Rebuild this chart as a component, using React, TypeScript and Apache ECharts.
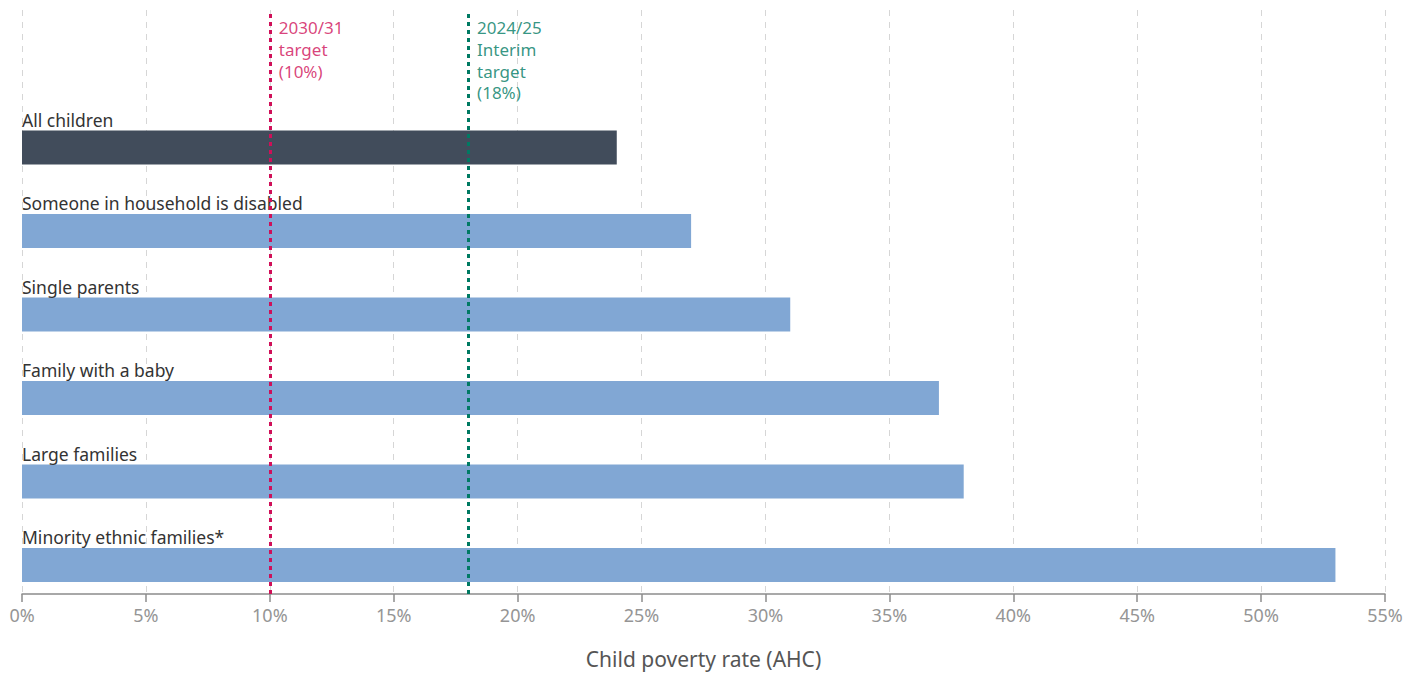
import React, { useEffect, useRef } from "react";
import * as echarts from "echarts";

const categories = [
  "All children",
  "Someone in household is disabled",
  "Single parents",
  "Family with a baby",
  "Large families",
  "Minority ethnic families*",
];
const values = [24, 27, 31, 37, 38, 53];
const barColors = ["#414c5b", "#81a7d4", "#81a7d4", "#81a7d4", "#81a7d4", "#81a7d4"];
const targetValues = [10, 18];
const targetLabels = ["2030/31\ntarget\n(10%)", "2024/25\nInterim\ntarget\n(18%)"];
const targetColors = ["#cf1059", "#007a63"];
const xTicks = { min: 0, max: 55, interval: 5 };
const axisTitle = "Child poverty rate (AHC)";

const FONT = "'Noto Sans', sans-serif";

export default function App() {
  const ref = useRef<HTMLDivElement>(null);
  useEffect(() => {
    if (!ref.current) return;
    const chart = echarts.init(ref.current, null, { renderer: "svg" });
    const gridLeft = 22;
    const gridRight = 37;
    const option: any = {
      animation: false,
      grid: [
        { left: gridLeft, right: gridRight, top: 10, bottom: 78 },
        { left: gridLeft, right: gridRight, top: 105.75, bottom: 67.25 },
      ],
      xAxis: [
        {
          gridIndex: 0,
          type: "value",
          min: xTicks.min,
          max: xTicks.max,
          interval: xTicks.interval,
          name: axisTitle,
          nameLocation: "middle",
          nameGap: 54,
          nameTextStyle: { fontFamily: FONT, fontSize: 21, color: "#555" },
          axisLine: { show: true, lineStyle: { color: "#8c8c8c", width: 1.5 } },
          axisTick: { show: true, length: 8, lineStyle: { color: "#8c8c8c", width: 1.5 } },
          axisLabel: {
            formatter: "{value}%",
            fontFamily: FONT,
            fontSize: 18,
            color: "#959595",
            margin: 12,
          },
          splitLine: { show: true, lineStyle: { color: "#d6d6d6", type: [6, 6], width: 1 } },
        },
        {
          gridIndex: 1,
          type: "value",
          min: xTicks.min,
          max: xTicks.max,
          show: false,
          splitLine: { show: false },
        },
      ],
      yAxis: [
        { gridIndex: 0, type: "value", min: 0, max: 1, show: false, splitLine: { show: false } },
        {
          gridIndex: 1,
          type: "category",
          data: categories,
          inverse: true,
          show: false,
        },
      ],
      series: [
        {
          type: "bar",
          xAxisIndex: 1,
          yAxisIndex: 1,
          barWidth: 34,
          data: values.map((v, i) => ({ value: v, itemStyle: { color: barColors[i] } })),
          label: {
            show: true,
            position: [0, -2],
            align: "left",
            verticalAlign: "bottom",
            formatter: "{b}",
            fontFamily: FONT,
            fontSize: 17.5,
            color: "#333",
          },
          z: 2,
        },
        ...targetValues.map((t, i) => ({
          type: "scatter",
          xAxisIndex: 0,
          yAxisIndex: 0,
          symbolSize: 0,
          data: [[t, 1]],
          z: 10,
          label: {
            show: true,
            position: [9, 7],
            align: "left",
            verticalAlign: "top",
            formatter: targetLabels[i],
            fontFamily: FONT,
            fontSize: 17,
            lineHeight: 21.7,
            color: targetColors[i],
          },
          markLine: {
            silent: true,
            symbol: "none",
            label: { show: false },
            lineStyle: { color: targetColors[i], type: [4, 4], width: 3 },
            data: [{ xAxis: t }],
            z: 10,
          },
        })),
      ],
    };
    chart.setOption(option);
    return () => chart.dispose();
  }, []);
  return (
    <div
      ref={ref}
      style={{ position: "absolute", left: 0, top: 0, width: 1422, height: 674, background: "#fff" }}
    />
  );
}
